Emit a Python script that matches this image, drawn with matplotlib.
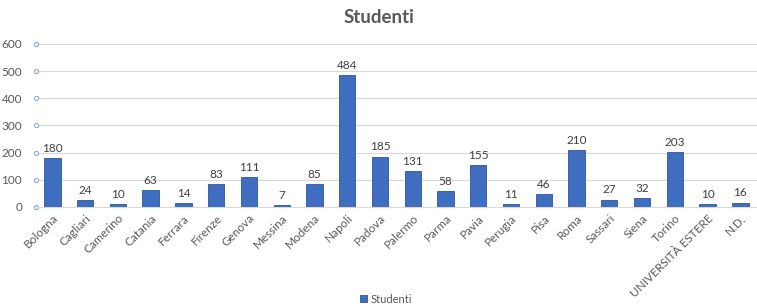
import matplotlib
matplotlib.use("Agg")
import matplotlib.pyplot as plt

categories = ["Bologna", "Cagliari", "Camerino", "Catania", "Ferrara", "Firenze", "Genova",
              "Messina", "Modena", "Napoli", "Padova", "Palermo", "Parma", "Pavia", "Perugia",
              "Pisa", "Roma", "Sassari", "Siena", "Torino", "UNIVERSITÀ ESTERE", "N.D."]
values = [180, 24, 10, 63, 14, 83, 111, 7, 85, 484, 185, 131, 58, 155, 11, 46, 210, 27, 32, 203, 10, 16]
yticks = [0, 100, 200, 300, 400, 500, 600]

plt.rcParams['font.family'] = ['Lato', 'DejaVu Sans']
txt = '#595959'

fig = plt.figure(figsize=(7.57, 3.07), dpi=100)
ax = fig.add_axes([0.0476, 0.326, 0.952, 0.531])
x = range(len(categories))
bars = ax.bar(x, values, width=0.5, color='#3F6DBF', edgecolor='#2F5597', linewidth=0.6,
              label='Studenti', zorder=3)
for xi, v in zip(x, values):
    ax.annotate(str(v), (xi, v), xytext=(0, 3), textcoords='offset points',
                ha='center', va='bottom', fontsize=8.5, color='#404040')

ax.set_xlim(-0.5, len(categories) - 0.5)
ax.set_ylim(0, 600)
ax.set_yticks(yticks)
ax.set_xticks(list(x))
ax.set_xticklabels(categories, rotation=45, ha='right', rotation_mode='anchor', fontsize=8.5, color=txt)
ax.tick_params(axis='x', length=0, pad=4)
ax.tick_params(axis='y', labelsize=8.5, labelcolor=txt, length=0, pad=10)
for t in ax.yaxis.get_major_ticks():
    t.tick1line.set_marker('o')
    t.tick1line.set_markersize(3)
    t.tick1line.set_markerfacecolor('white')
    t.tick1line.set_markeredgecolor('#8FAADC')
    t.tick1line.set_markeredgewidth(0.8)
    t.tick1line.set_visible(True)
ax.grid(axis='y', color='#D9D9D9', linewidth=0.8, zorder=0)
for s in ['top', 'right', 'left']:
    ax.spines[s].set_visible(False)
ax.spines['bottom'].set_color('#D9D9D9')

fig.suptitle('Studenti', y=0.97, fontsize=13.5, fontweight='bold', color=txt)
fig.legend(handles=[bars], labels=['Studenti'], loc='lower center', bbox_to_anchor=(0.51, -0.025),
           frameon=False, fontsize=8, handlelength=0.6, handleheight=0.6, labelcolor=txt,
           handletextpad=0.3)
fig.savefig('out.png', dpi=100)
